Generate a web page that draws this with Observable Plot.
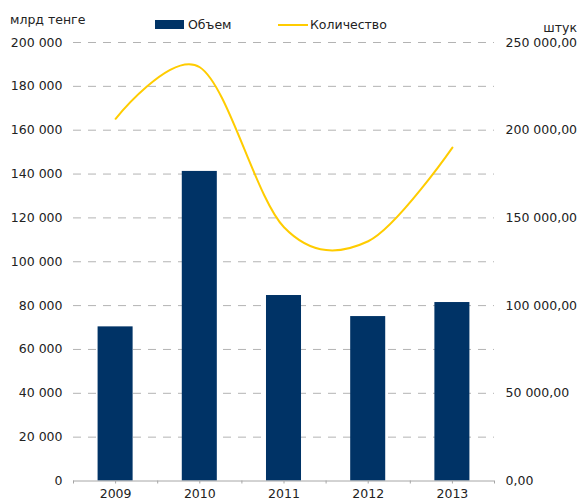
<!DOCTYPE html>
<html>
<head>
<meta charset="utf-8">
<script src="https://cdn.jsdelivr.net/npm/d3@7"></script>
<script src="https://cdn.jsdelivr.net/npm/@observablehq/plot@0.6"></script>
<style>
  html, body { margin: 0; padding: 0; background: #fff; }
  #wrap { position: relative; width: 578px; height: 501px; overflow: hidden;
          font-family: "DejaVu Sans", Verdana, sans-serif; font-size: 12.5px; color: #222; }
  #wrap svg { position: absolute; left: 0; top: 0; }
  .lbl { position: absolute; line-height: 12.5px; white-space: nowrap; }
  .sw-bar { position: absolute; width: 29px; height: 9px; background: #003366; }
  .sw-line { position: absolute; width: 30px; height: 2px; background: #FFCC00; }
</style>
</head>
<body>
<div id="wrap">
  <div class="lbl" style="left:10px; top:14px;">млрд тенге</div>
  <div class="sw-bar" style="left:155px; top:20px;"></div>
  <div class="lbl" style="left:188px; top:19px;">Объем</div>
  <div class="sw-line" style="left:278px; top:24px;"></div>
  <div class="lbl" style="left:310px; top:19px;">Количество</div>
  <div class="lbl" style="right:1px; top:22px;">штук</div>
</div>
<script>
const years = ["2009", "2010", "2011", "2012", "2013"];
const volume = [70300, 141200, 84600, 75000, 81400];      // Объем, млрд тенге (left axis)
const count = [206500, 235900, 144700, 136700, 190100];   // Количество, штук (right axis)
const leftTicks = [0, 20000, 40000, 60000, 80000, 100000, 120000, 140000, 160000, 180000, 200000];
const rightTicks = [0, 50000, 100000, 150000, 200000, 250000];

const leftMax = 200000, rightMax = 250000;
const k = leftMax / rightMax;

const locale = d3.formatLocale({decimal: ",", thousands: " ", grouping: [3], currency: ["", ""]});
const fmt0 = locale.format(",.0f");
const fmt2 = locale.format(",.2f");

const table = years.map((year, i) => ({i, year, volume: volume[i], count: count[i], countScaled: count[i] * k}));
const centers = years.map((_, i) => i);
const bounds = [-0.5, ...years.map((_, i) => i + 0.5)];
const half = 0.208;

const chart = Plot.plot({
  width: 578,
  height: 501,
  marginLeft: 73,
  marginRight: 84,
  marginTop: 42,
  marginBottom: 20.5,
  style: {fontFamily: "DejaVu Sans, Verdana, sans-serif", fontSize: "12.5px", color: "#222", background: "transparent"},
  x: {domain: [-0.5, years.length - 0.5], axis: null},
  y: {domain: [0, leftMax], axis: null},
  marks: [
    Plot.ruleY(leftTicks.filter(d => d > 0), {stroke: "#b3b3b3", strokeWidth: 1, strokeDasharray: "8,7"}),
    Plot.rectY(table, {x1: d => d.i - half, x2: d => d.i + half, y1: 0, y2: "volume", fill: "#003366"}),
    Plot.ruleY([0], {stroke: "#a6a6a6"}),
    Plot.axisX(centers, {tickSize: 3, tickPadding: 5, tickFormat: i => years[i], stroke: "#a6a6a6", fill: "#222", label: null}),
    Plot.axisX(bounds, {tickSize: 3, tickFormat: () => "", stroke: "#a6a6a6", label: null}),
    Plot.axisY(leftTicks, {anchor: "left", tickSize: 0, tickPadding: 11, tickFormat: fmt0, fill: "#222", label: null}),
    Plot.axisY(rightTicks.map(t => t * k), {anchor: "right", tickSize: 0, tickPadding: 11, tickFormat: d => fmt2(Math.round(d / k)), fill: "#222", label: null}),
    Plot.line(table, {x: "i", y: "countScaled", stroke: "#FFCC00", strokeWidth: 2, curve: "cardinal", tension: 0})
  ]
});
document.getElementById("wrap").prepend(chart);
</script>
</body>
</html>
